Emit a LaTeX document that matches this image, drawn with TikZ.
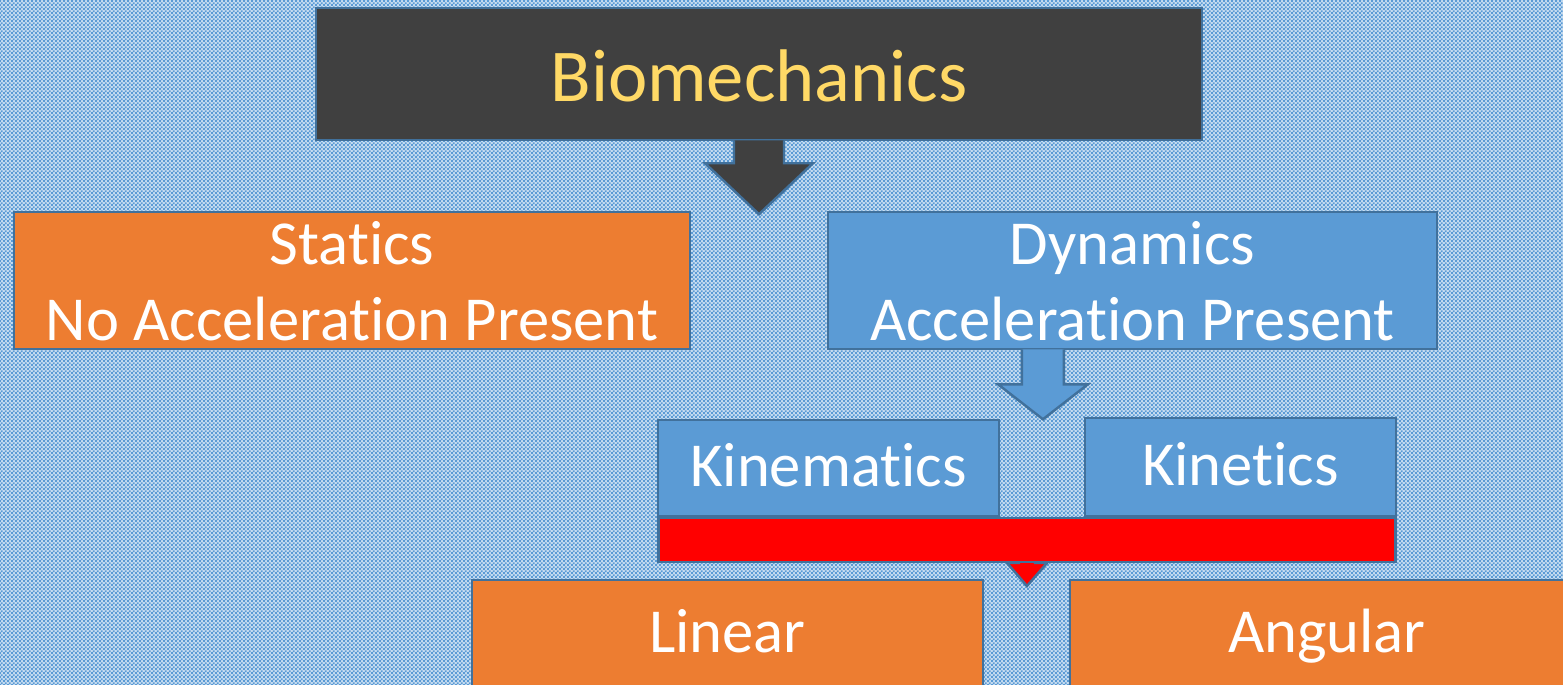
\documentclass[tikz,border=0pt]{standalone}
\usepackage{fontspec}
\setmainfont[Ligatures=NoCommon]{Carlito}
\usetikzlibrary{patterns}

\definecolor{checkblue}{HTML}{5B9BD5}
\definecolor{edgeblue}{HTML}{41719C}
\definecolor{darkbox}{HTML}{404040}
\definecolor{titlegold}{HTML}{FFD966}
\definecolor{boxorange}{HTML}{ED7D31}
\definecolor{boxblue}{HTML}{5B9BD5}
\definecolor{barred}{HTML}{FF0000}

% fine checker for the slide background
\pgfdeclarepatternformonly{finechecker}{\pgfpointorigin}{\pgfqpoint{1.2pt}{1.2pt}}{\pgfqpoint{1.2pt}{1.2pt}}{
	\pgfpathrectangle{\pgfpointorigin}{\pgfqpoint{0.6pt}{0.6pt}}
	\pgfpathrectangle{\pgfqpoint{0.6pt}{0.6pt}}{\pgfqpoint{0.6pt}{0.6pt}}
	\pgfusepath{fill}
}

\begin{document}
\begin{tikzpicture}[x=0.01cm,y=-0.01cm]
			\tikzstyle{every node}+=[inner sep=0pt]
			\tikzstyle{box}=[draw=edgeblue, line width=0.7pt, text=white, align=center, font=\fontsize{17.8}{21.6}\selectfont]
			\tikzstyle{oneline}=[text height=10.8pt, text depth=0pt]
			\tikzstyle{blockarrow}=[draw=edgeblue, line width=0.7pt, line join=miter]
			\useasboundingbox (0,0) rectangle (1563,685);
			\fill [checkblue!35!white] (0,0) rectangle (1563,685);
			\fill [pattern=finechecker, pattern color=checkblue] (0,0) rectangle (1563,685);
			% top
			\node [box, fill=darkbox, text=titlegold, font=\fontsize{21.2}{26}\selectfont, text height=15.9pt, text depth=0pt, minimum width=8.86cm, minimum height=1.32cm] (bio) at (759,74) {Biomechanics};
			\path [blockarrow, fill=darkbox, shift={(bio.south)}] (-25,-1) -- (-25,22) -- (-54,22) -- (0,73) -- (54,22) -- (25,22) -- (25,-1);
			% second row
			\node [box, fill=boxorange, minimum width=6.76cm, minimum height=1.37cm] (statics) at (352,280.5) {\rule{0pt}{12.8pt}Statics\\No Acceleration Present};
			\node [box, fill=boxblue, minimum width=6.09cm, minimum height=1.37cm] (dynamics) at (1132.5,280.5) {\rule{0pt}{12.8pt}Dynamics\\Acceleration Present};
			\path [blockarrow, fill=boxblue, shift={([xshift=-0.895cm]dynamics.south)}] (-21,-1) -- (-21,34) -- (-45,34) -- (0,69) -- (45,34) -- (21,34) -- (21,-1);
			% third row
			\node [box, oneline, fill=boxblue, minimum width=3.41cm, minimum height=0.96cm] (kinematics) at (828.5,468) {Kinematics};
			\node [box, oneline, fill=boxblue, minimum width=3.11cm, minimum height=0.98cm] (kinetics) at (1240.5,467) {Kinetics};
			\coordinate (bartip) at (1027,562);
			\path [blockarrow, fill=barred, shift={(bartip)}] (-8,-12) -- (-8,1) -- (-20,1) -- (0,24) -- (20,1) -- (8,1) -- (8,-12);
			\node [box, fill=barred, minimum width=7.37cm, minimum height=0.44cm] (bar) at (1027,540) {};
			% bottom row
			\node [box, oneline, fill=boxorange, minimum width=5.11cm, minimum height=1.08cm] (linear) at (727.5,634) {Linear};
			\node [box, oneline, fill=boxorange, minimum width=5.14cm, minimum height=1.08cm] (angular) at (1327,634) {Angular};
\end{tikzpicture}
\end{document}
